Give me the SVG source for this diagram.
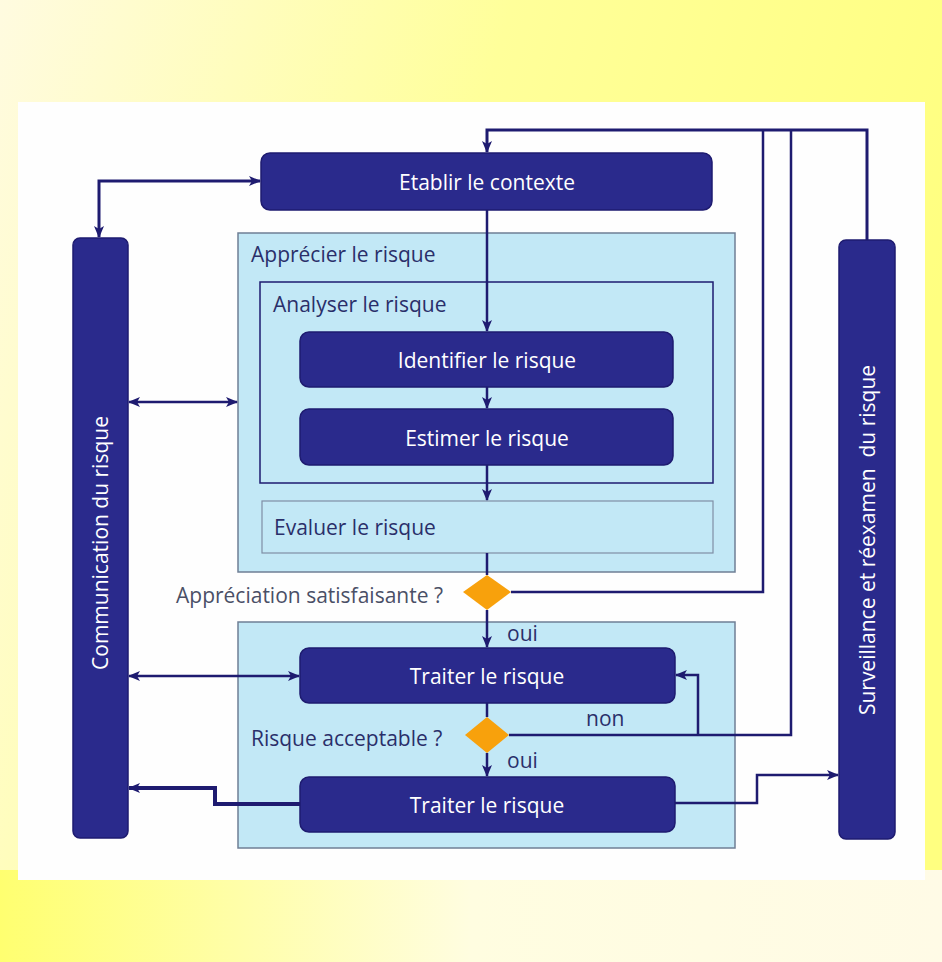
<svg xmlns="http://www.w3.org/2000/svg" width="942" height="962" viewBox="0 0 942 962">
<defs>
<linearGradient id="bg" x1="0" y1="0" x2="1" y2="0.3">
<stop offset="0" stop-color="#fffbe0"/>
<stop offset="0.5" stop-color="#ffff9a"/>
<stop offset="1" stop-color="#ffff80"/>
</linearGradient>
<linearGradient id="bgb" x1="0" y1="0" x2="1" y2="0">
<stop offset="0" stop-color="#ffff70"/>
<stop offset="0.5" stop-color="#fffde0"/>
<stop offset="1" stop-color="#fffbe6"/>
</linearGradient>
<marker id="ah" viewBox="0 0 12 10" refX="11" refY="5" markerWidth="12" markerHeight="10" markerUnits="userSpaceOnUse" orient="auto-start-reverse">
<path d="M0,0 L12,5 L0,10 L3,5 Z" fill="#1e1b70"/>
</marker>
<style>
.nav{fill:#2a2a8c;stroke:#1e1b70;stroke-width:1.5}
.lb{fill:#c2e8f6;stroke:#6f7f95;stroke-width:1.5}
.in{fill:none;stroke:#1e1b70;stroke-width:1.5}
.ev{fill:none;stroke:#7f8ea5;stroke-width:1.2}
.dia{fill:#f8a10c}
.wt{font-family:"Open Sans","Noto Sans",sans-serif;font-size:21px;fill:#ffffff;text-anchor:middle}
.dk{font-family:"Open Sans","Noto Sans",sans-serif;font-size:21px;fill:#2a2f6a}
.gr{font-family:"Open Sans","Noto Sans",sans-serif;font-size:21px;fill:#4a4f66}
.c{fill:none;stroke:#1e1b70;stroke-width:3}
.c2{fill:none;stroke:#1e1b70;stroke-width:2.5}
.thick{fill:none;stroke:#1e1b70;stroke-width:4}
</style>
</defs>
<rect x="0" y="0" width="942" height="962" fill="url(#bg)"/>
<rect x="0" y="870" width="942" height="92" fill="url(#bgb)"/>
<rect x="18" y="102" width="907" height="778" fill="#fefefe"/>

<g id="apprecier">
<rect class="lb" x="238" y="233" width="497" height="339"/>
<text class="dk" x="251" y="262">Apprécier le risque</text>
</g>
<g id="analyser">
<rect class="in" x="260" y="282" width="453" height="201"/>
<text class="dk" x="273" y="312">Analyser le risque</text>
</g>
<g id="evaluer">
<rect class="ev" x="262" y="501" width="451" height="52"/>
<text class="dk" x="274" y="535">Evaluer le risque</text>
</g>
<g id="traitement">
<rect class="lb" x="238" y="622" width="497" height="226"/>
</g>

<g id="communication">
<rect class="nav" x="73" y="238" width="55" height="600" rx="7"/>
<text class="wt" transform="translate(108,543) rotate(-90)">Communication du risque</text>
</g>
<g id="surveillance">
<rect class="nav" x="839" y="240" width="56" height="599" rx="7"/>
<text class="wt" transform="translate(875,540) rotate(-90)" xml:space="preserve">Surveillance et réexamen  du risque</text>
</g>
<g id="etablir">
<rect class="nav" x="261" y="153" width="451" height="57" rx="9"/>
<text class="wt" x="487" y="190">Etablir le contexte</text>
</g>
<g id="identifier">
<rect class="nav" x="300" y="332" width="373" height="55" rx="9"/>
<text class="wt" x="487" y="368">Identifier le risque</text>
</g>
<g id="estimer">
<rect class="nav" x="300" y="409" width="373" height="56" rx="9"/>
<text class="wt" x="487" y="446">Estimer le risque</text>
</g>
<g id="d1">
<polygon class="dia" points="487,575 511,592 487,610 463,592"/>
<text class="gr" x="176" y="603">Appréciation satisfaisante ?</text>
</g>
<g id="traiter1">
<rect class="nav" x="300" y="648" width="375" height="55" rx="9"/>
<text class="wt" x="487" y="684">Traiter le risque</text>
</g>
<g id="d2">
<polygon class="dia" points="487,717 509,735 487,753 465,735"/>
<text class="dk" x="251" y="746">Risque acceptable ?</text>
</g>
<g id="traiter2">
<rect class="nav" x="300" y="777" width="375" height="55" rx="9"/>
<text class="wt" x="487" y="813">Traiter le risque</text>
</g>

<g id="connectors">
<polyline class="c" points="867,240 867,130 487,130 487,152" marker-end="url(#ah)"/>
<polyline class="c2" points="763,130 763,592 511,592"/>
<polyline class="c2" points="791,130 791,735 509,735"/>
<polyline class="c2" points="698,735 698,675 676,675" marker-end="url(#ah)"/>
<polyline class="c2" points="487,210 487,331" marker-end="url(#ah)"/>
<polyline class="c2" points="487,387 487,408" marker-end="url(#ah)"/>
<polyline class="c2" points="487,465 487,500" marker-end="url(#ah)"/>
<polyline class="c2" points="487,553 487,575"/>
<polyline class="c2" points="487,610 487,647" marker-end="url(#ah)"/>
<polyline class="c2" points="487,703 487,717"/>
<polyline class="c2" points="487,753 487,776" marker-end="url(#ah)"/>
<polyline class="c" points="99,237 99,181 260,181" marker-start="url(#ah)" marker-end="url(#ah)"/>
<polyline class="c2" points="129,402 237,402" marker-start="url(#ah)" marker-end="url(#ah)"/>
<polyline class="c2" points="129,676 299,676" marker-start="url(#ah)" marker-end="url(#ah)"/>
<polyline class="thick" points="300,804 215,804 215,788 129,788" marker-end="url(#ah)"/>
<polyline class="c2" points="675,803 757,803 757,775 838,775" marker-end="url(#ah)"/>
<text class="dk" x="507" y="641">oui</text>
<text class="dk" x="586" y="726">non</text>
<text class="dk" x="507" y="768">oui</text>
</g>
</svg>
